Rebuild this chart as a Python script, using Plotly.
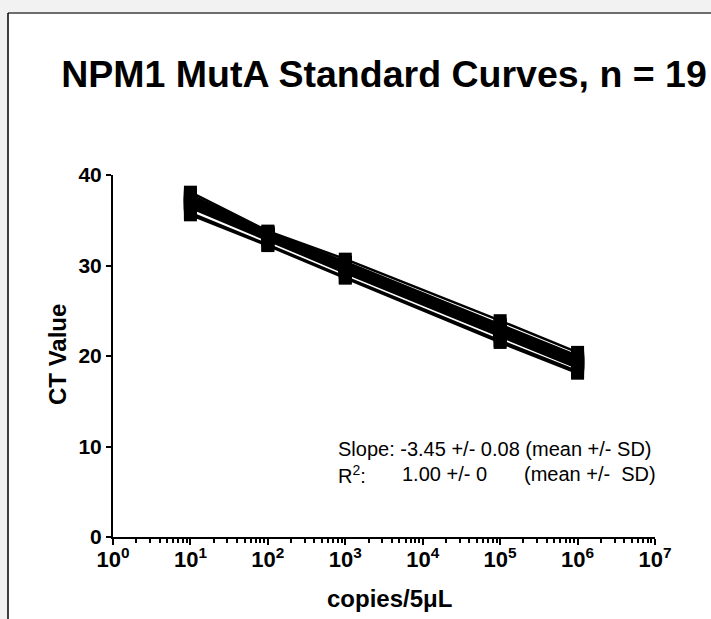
import plotly.graph_objects as go

# copies per 5 uL (10^4 dilution not measured)
copies = [1e1, 1e2, 1e3, 1e5, 1e6]

# CT values of the 19 standard curves
curves = [
    [37.2, 33.4, 29.9, 22.9, 19.4],
    [36.9, 33.2, 29.7, 22.7, 19.2],
    [37.5, 33.6, 30.2, 23.2, 19.7],
    [36.6, 33.0, 29.4, 22.4, 18.9],
    [37.8, 33.7, 30.4, 23.5, 20.0],
    [35.8, 32.3, 28.7, 21.7, 18.3],
    [37.0, 33.3, 29.8, 22.8, 19.3],
    [37.3, 33.5, 30.0, 23.0, 19.5],
    [36.8, 33.1, 29.6, 22.6, 19.1],
    [38.1, 33.8, 30.7, 23.9, 20.4],
    [37.1, 33.3, 29.9, 22.9, 19.3],
    [36.4, 32.8, 29.2, 22.2, 18.7],
    [37.6, 33.5, 30.1, 23.1, 19.6],
    [36.7, 33.0, 29.5, 22.5, 19.0],
    [37.4, 33.4, 30.0, 23.0, 19.5],
    [35.6, 32.2, 28.6, 21.5, 18.1],
    [37.0, 33.2, 29.8, 22.7, 19.2],
    [36.9, 33.3, 29.7, 22.8, 19.3],
    [37.7, 33.6, 30.3, 23.3, 19.8],
]

x_tickvals = [1, 10, 100, 1000, 1e4, 1e5, 1e6, 1e7]
x_ticktext = ['10<sup>%d</sup>' % i for i in range(8)]
y_tickvals = [0, 10, 20, 30, 40]

font = 'Arial, Liberation Sans, sans-serif'

fig = go.Figure()
for ct in curves:
    fig.add_trace(go.Scatter(
        x=copies, y=ct, mode='lines+markers',
        line=dict(color='black', width=2.5),
        marker=dict(symbol='square', size=13, color='black'),
        showlegend=False, hoverinfo='skip'))

# plot area in pixels: left 113, right 655, top 175, bottom 537
L, R, T, B = 113, 655, 175, 537
W, H = 711, 619
pw, ph = R - L, B - T
def px(x): return (x - L) / pw
def py(y): return (B - y) / ph

shapes = [
    dict(type='rect', xref='paper', yref='paper', layer='below',
         x0=px(8), x1=px(W + 5), y0=py(H + 5), y1=py(13),
         fillcolor='white', line=dict(width=0)),
    dict(type='line', xref='paper', yref='paper',
         x0=px(8), x1=px(W + 5), y0=py(13), y1=py(13),
         line=dict(color='#6e6e6e', width=2)),
    dict(type='line', xref='paper', yref='paper',
         x0=px(8), x1=px(8), y0=py(13), y1=py(H + 5),
         line=dict(color='black', width=1.5)),
]

notes = [
    ('Slope: -3.45 +/- 0.08 (mean +/- SD)', 336, 449),
    ('R<sup>2</sup>:', 336, 474),
    ('1.00 +/- 0', 400, 474),
    ('(mean +/-  SD)', 522, 474),
]
annotations = [dict(text=t, xref='paper', yref='paper', x=px(x), y=py(y),
                    xanchor='left', yanchor='middle', showarrow=False,
                    font=dict(family=font, size=20, color='black'))
               for t, x, y in notes]

# axis titles
annotations.append(dict(text='<b>CT Value</b>', xref='paper', yref='paper',
                        x=px(57), y=py(355), textangle=-90, showarrow=False,
                        xanchor='center', yanchor='middle',
                        font=dict(family=font, size=24, color='black')))
annotations.append(dict(text='<b>copies/5μL</b>', xref='paper', yref='paper',
                        x=px(389), y=py(598), showarrow=False,
                        xanchor='center', yanchor='middle',
                        font=dict(family=font, size=24, color='black')))

fig.update_layout(
    width=W, height=H,
    margin=dict(l=L, r=W - R, t=T, b=H - B),
    paper_bgcolor='#f2f2f2', plot_bgcolor='white',
    font=dict(family=font, color='black'),
    title=dict(text='<b>NPM1 MutA Standard Curves, n = 19</b>',
               x=384 / W, xanchor='center', y=1 - 74 / H, yanchor='middle',
               font=dict(size=37.5, family=font, color='black')),
    shapes=shapes, annotations=annotations,
)
fig.update_xaxes(
    type='log', range=[0, 7], tickmode='array',
    tickvals=x_tickvals, ticktext=x_ticktext,
    showline=True, linecolor='black', linewidth=2,
    ticks='outside', ticklen=6, tickwidth=2, tickcolor='black',
    minor=dict(ticks='outside', ticklen=4, tickwidth=1.5, tickcolor='black', dtick='D1'),
    showgrid=False, zeroline=False, ticklabelstandoff=-4,
    tickfont=dict(size=22, weight='bold', family=font),
)
fig.update_yaxes(
    range=[0, 40], tickmode='array', tickvals=y_tickvals,
    showline=True, linecolor='black', linewidth=2,
    ticks='outside', ticklen=5, tickwidth=2, tickcolor='black',
    showgrid=False, zeroline=False, ticklabelstandoff=0,
    tickfont=dict(size=21, weight='bold', family=font),
)

fig.write_html('out.html', config={'displayModeBar': False},
               post_script="document.body.style.margin='0';")
